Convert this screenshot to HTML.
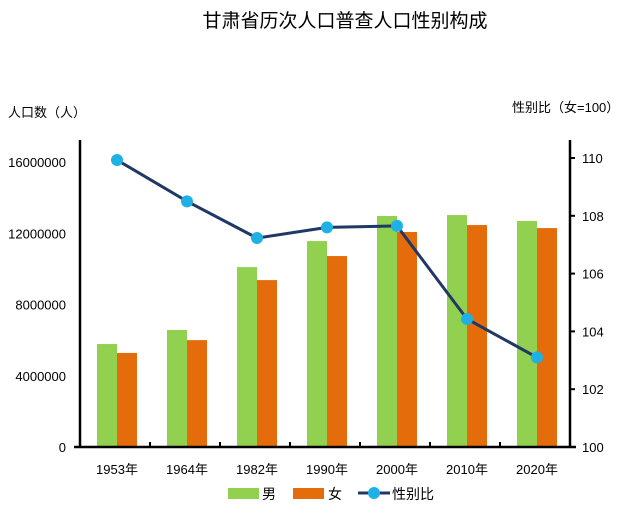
<!DOCTYPE html>
<html><head><meta charset="utf-8"><style>
body{margin:0;background:#fff;}
svg text{font-family:"Liberation Sans","Noto Sans CJK SC",sans-serif;fill:#000;}
</style></head><body>
<svg id="chart" width="642" height="508" xmlns="http://www.w3.org/2000/svg">
<text x="345" y="27" font-size="19" text-anchor="middle">甘肃省历次人口普查人口性别构成</text>
<text x="8" y="117" font-size="13">人口数（人）</text>
<text x="512" y="112" font-size="13">性别比（女=100）</text>
<g id="g"></g>
<g>
<rect x="228" y="488" width="31" height="11" fill="#92d050"/>
<text x="262" y="499" font-size="14">男</text>
<rect x="293" y="488" width="31" height="11" fill="#e46c0a"/>
<text x="328" y="499" font-size="14">女</text>
<line x1="358" y1="493" x2="390" y2="493" stroke="#1f3864" stroke-width="3"/>
<circle cx="374" cy="493" r="6" fill="#1fb0e6"/>
<text x="392" y="499" font-size="14">性别比</text>
</g>
</svg>
<script>
const categories=["1953年","1964年","1982年","1990年","2000年","2010年","2020年"];
const maleValues=[5780000,6570000,10100000,11560000,12970000,13020000,12690000];
const femaleValues=[5280000,6000000,9370000,10720000,12070000,12460000,12290000];
const sexRatio=[109.93,108.5,107.23,107.6,107.65,104.43,103.1];
const leftTicks=[0,4000000,8000000,12000000,16000000];
const rightTicks=[100,102,104,106,108,110];
const NS="http://www.w3.org/2000/svg";
const g=document.getElementById('g');
const X0=80,X1=570,Y0=447;
const band=(X1-X0)/categories.length;
const yL=v=>Y0-v/4000000*71.25;
const yR=v=>Y0-(v-100)*28.9;
const xC=i=>X0+2+band*(i+0.5);
function mk(t,a){const e=document.createElementNS(NS,t);for(const k in a)e.setAttribute(k,a[k]);g.appendChild(e);return e;}
leftTicks.forEach(v=>{const t=mk('text',{x:X0-14,y:yL(v)+5,'font-size':13,'text-anchor':'end'});t.textContent=v;

});
rightTicks.forEach(v=>{const t=mk('text',{x:X1+12,y:yR(v)+5,'font-size':13});t.textContent=v;


const l=mk('line',{x1:X1,x2:X1+5,y1:yR(v),y2:yR(v),stroke:'#000','stroke-width':2});

});
categories.forEach((c,i)=>{
const bm=mk('rect',{x:xC(i)-20,y:yL(maleValues[i]),width:20,height:Y0-yL(maleValues[i]),fill:'#92d050'});


const bf=mk('rect',{x:xC(i),y:yL(femaleValues[i]),width:20,height:Y0-yL(femaleValues[i]),fill:'#e46c0a'});


const t=mk('text',{x:xC(i),y:474,'font-size':13,'text-anchor':'middle'});t.textContent=c;


});
for(let i=1;i<categories.length;i++){const l=mk('line',{x1:X0+band*i,x2:X0+band*i,y1:Y0,y2:Y0-5,stroke:'#000','stroke-width':2});

}
const ax=mk('line',{x1:X0,x2:X0,y1:140,y2:Y0+1,stroke:'#000','stroke-width':2.5});


const ax2=mk('line',{x1:X1,x2:X1,y1:140,y2:Y0+1,stroke:'#000','stroke-width':2.5});


const xb=mk('line',{x1:X0-6,x2:X1+6,y1:Y0,y2:Y0,stroke:'#000','stroke-width':2.5});


const pl=mk('polyline',{points:sexRatio.map((v,i)=>xC(i)+','+yR(v)).join(' '),fill:'none',stroke:'#1f3864','stroke-width':3});


sexRatio.forEach((v,i)=>{const c=mk('circle',{cx:xC(i),cy:yR(v),r:6,fill:'#1fb0e6'});

});
</script>
</body></html>
